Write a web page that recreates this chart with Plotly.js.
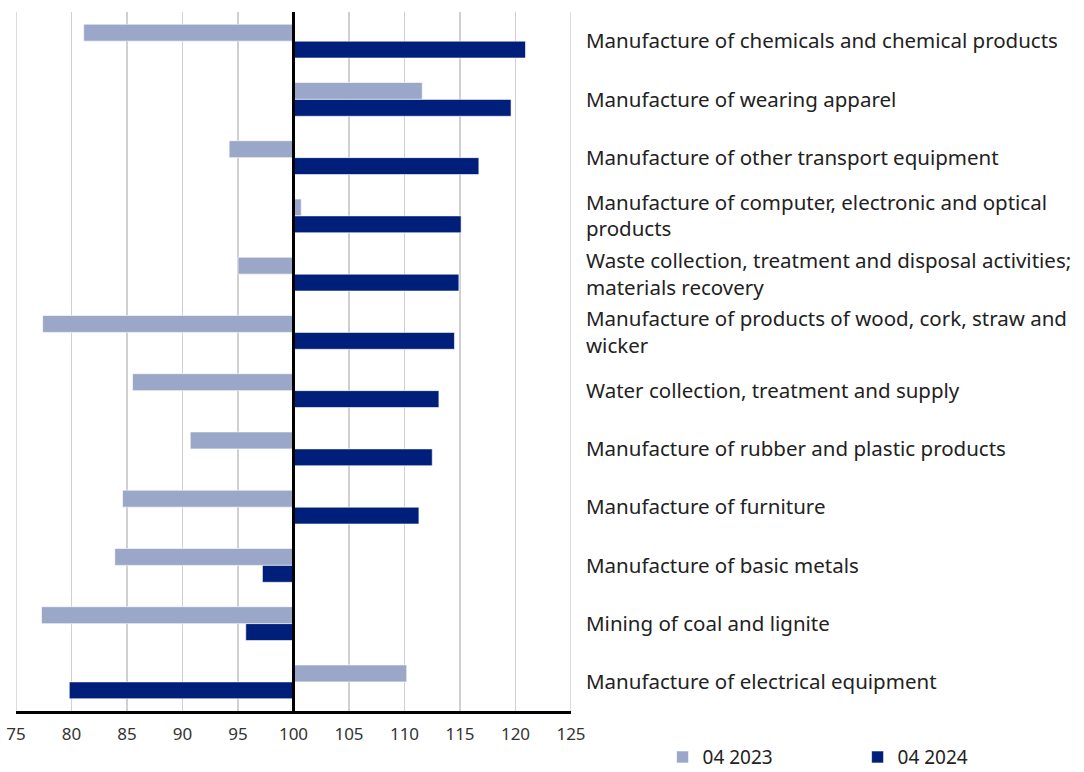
<!DOCTYPE html>
<html>
<head>
<meta charset="utf-8">
<script src="https://cdn.plot.ly/plotly-3.0.1.min.js"></script>
<style>html,body{margin:0;padding:0;background:#fff;}#chart{width:1084px;height:772px;}</style>
</head>
<body>
<div id="chart"></div>
<script>
var categories = [
  "Manufacture of chemicals and chemical products",
  "Manufacture of wearing apparel",
  "Manufacture of other transport equipment",
  "Manufacture of computer, electronic and optical<br>products",
  "Waste collection, treatment and disposal activities;<br>materials recovery",
  "Manufacture of products of wood, cork, straw and<br>wicker",
  "Water collection, treatment and supply",
  "Manufacture of rubber and plastic products",
  "Manufacture of furniture",
  "Manufacture of basic metals",
  "Mining of coal and lignite",
  "Manufacture of electrical equipment"
];
var values2023 = [81.1, 111.6, 94.2, 100.7, 95.0, 77.4, 85.5, 90.7, 84.6, 83.9, 77.3, 110.2];
var values2024 = [120.9, 119.6, 116.7, 115.1, 114.9, 114.5, 113.1, 112.5, 111.3, 97.2, 95.7, 79.8];
var seriesNames = ["04 2023", "04 2024"];
var baseline = 100;
var tickVals = [75, 80, 85, 90, 95, 100, 105, 110, 115, 120, 125];

function mk(vals, name, color) {
  return {
    type: 'bar', orientation: 'h', name: name,
    y: categories,
    x: vals.map(function (v) { return v - baseline; }),
    base: baseline,
    marker: {color: color, line: {color: '#ffffff', width: 0.6}},
    hoverinfo: 'skip'
  };
}

var data = [
  mk(values2023, seriesNames[0], '#9aa7c9'),
  mk(values2024, seriesNames[1], '#001f7a')
];

var layout = {
  width: 1084, height: 772,
  margin: {l: 16, r: 513, t: 12, b: 61, autoexpand: false},
  paper_bgcolor: '#ffffff', plot_bgcolor: '#ffffff',
  font: {family: 'Noto Sans, Open Sans, sans-serif', color: '#222222'},
  barmode: 'group', bargap: 0.42, bargroupgap: 0,
  showlegend: true,
  legend: {orientation: 'h', x: 1.165, xanchor: 'left', y: -0.066, yanchor: 'middle',
           font: {size: 19, color: '#222222'}, entrywidth: 150, itemwidth: 30,
           traceorder: 'normal'},
  xaxis: {
    range: [75, 125], tickvals: tickVals, ticktext: tickVals.map(String),
    showgrid: true, gridcolor: '#d0d0d0', gridwidth: 1.5,
    showline: true, linecolor: '#000000', linewidth: 3,
    zeroline: false, ticks: '', tickfont: {size: 17, color: '#333333'},
    ticklabelstandoff: 6,
    fixedrange: true
  },
  yaxis: {
    type: 'category', autorange: 'reversed', side: 'right',
    showgrid: false, zeroline: false, showline: false, ticks: '',
    tickfont: {size: 20.5, color: '#222222'}, ticklabelstandoff: 14,
    fixedrange: true
  },
  shapes: [
    {type: 'line', xref: 'x', yref: 'paper', x0: tickVals[0], x1: tickVals[0], y0: 0, y1: 1,
     line: {color: '#d0d0d0', width: 1.5}, layer: 'below'},
    {type: 'line', xref: 'x', yref: 'paper', x0: tickVals[tickVals.length - 1], x1: tickVals[tickVals.length - 1], y0: 0, y1: 1,
     line: {color: '#d0d0d0', width: 1.5}, layer: 'below'},
    {type: 'line', xref: 'x', yref: 'paper', x0: baseline, x1: baseline, y0: 0, y1: 1,
     line: {color: '#000000', width: 3}}
  ]
};

Plotly.newPlot('chart', data, layout, {displayModeBar: false, staticPlot: true});
</script>
</body>
</html>
